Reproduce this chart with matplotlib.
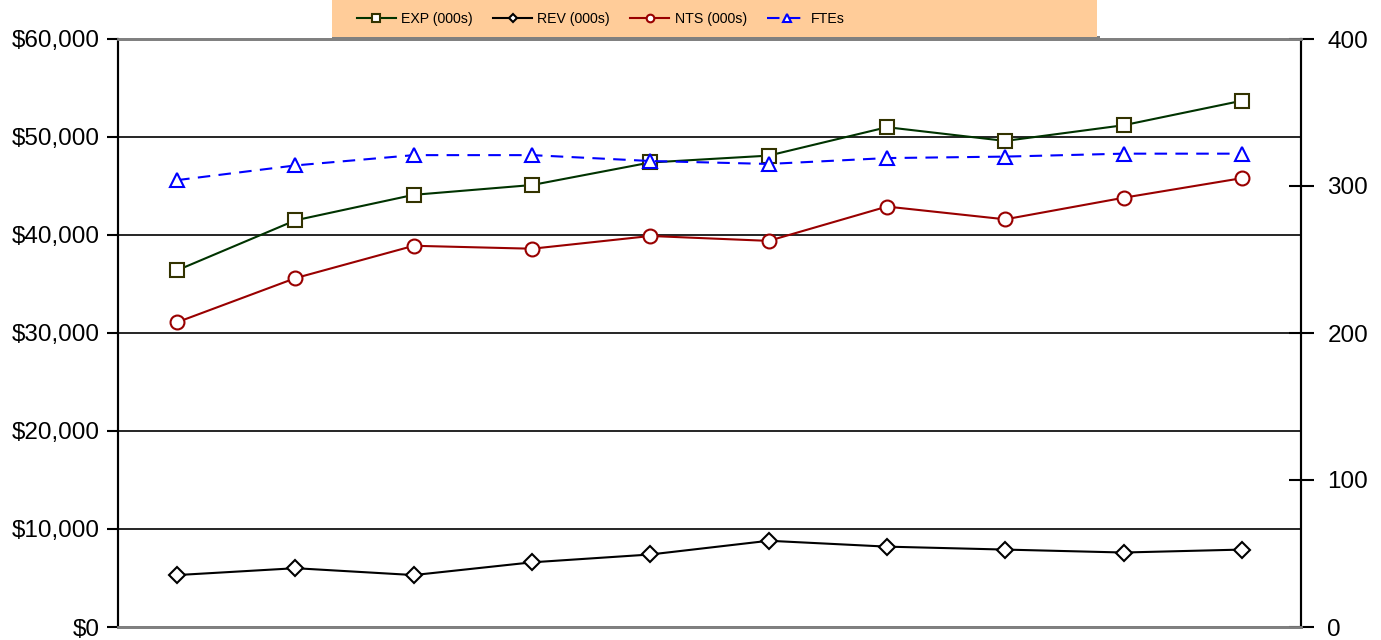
import matplotlib
matplotlib.use("Agg")
import matplotlib.pyplot as plt
from matplotlib.ticker import FuncFormatter, MultipleLocator
from matplotlib.patches import Rectangle
import numpy as np

plt.rcParams['font.family'] = ['Liberation Sans', 'DejaVu Sans']

periods = list(range(1, 11))
exp_vals = [36400, 41500, 44100, 45100, 47400, 48100, 51000, 49600, 51200, 53700]
rev_vals = [5300, 6000, 5300, 6600, 7400, 8800, 8200, 7900, 7600, 7900]
nts_vals = [31100, 35600, 38900, 38600, 39900, 39400, 42900, 41600, 43800, 45800]
fte_vals = [304, 314, 321, 321, 317, 315, 319, 320, 322, 322]

W, H = 1381, 640
fig = plt.figure(figsize=(W / 100, H / 100), dpi=100)
ax = fig.add_axes([118 / W, 13 / H, (1301 - 118) / W, (627 - 39) / H])
ax2 = ax.twinx()

x = np.arange(len(periods)) + 0.5

l1, = ax.plot(x, exp_vals, color='#003300', lw=1.5, marker='s', ms=10,
              mfc='white', mec='#333300', mew=1.5, label='EXP (000s)')
l2, = ax.plot(x, rev_vals, color='black', lw=1.5, marker='D', ms=8,
              mfc='white', mec='black', mew=1.5, label='REV (000s)')
l3, = ax.plot(x, nts_vals, color='#990000', lw=1.5, marker='o', ms=10,
              mfc='white', mec='#990000', mew=1.5, label='NTS (000s)')
l4, = ax2.plot(x, fte_vals, color='#0000FF', lw=1.5, ls=(0, (6, 4)), marker='^', ms=10,
               mfc='white', mec='#0000FF', mew=1.5, label='FTEs')

ax.set_xlim(0, 10)
ax.set_ylim(0, 60000)
ax2.set_ylim(0, 400)
ax.set_xticks([])
ax.yaxis.set_major_locator(MultipleLocator(10000))
ax.yaxis.set_major_formatter(FuncFormatter(lambda v, p: f"${v:,.0f}"))
ax2.yaxis.set_major_locator(MultipleLocator(100))

ax.grid(axis='y', color='black', lw=1.2)
ax.set_axisbelow(True)

for a in (ax, ax2):
    a.spines['top'].set_color('#808080')
    a.spines['bottom'].set_color('#808080')
    a.spines['top'].set_linewidth(2)
    a.spines['bottom'].set_linewidth(2)
    a.spines['left'].set_linewidth(1.5)
    a.spines['right'].set_linewidth(1.5)

ax.tick_params(axis='y', direction='out', length=8, width=1.5, labelsize=17.5, pad=5)
ax2.tick_params(axis='y', direction='inout', length=18, width=1.5, labelsize=17.5, pad=10)

# legend background box and shadow strip
fig.patches.append(Rectangle((332 / W, 1 - 40 / H), (1100 - 332) / W, 4 / H,
                             transform=fig.transFigure, facecolor='#808080',
                             edgecolor='none', zorder=0))
fig.patches.append(Rectangle((332 / W, 1 - 37 / H), (1097 - 332) / W, 37 / H,
                             transform=fig.transFigure, facecolor='#FFCC99',
                             edgecolor='none', zorder=1))

leg = fig.legend(handles=[l1, l2, l3, l4], loc='center left', ncol=4,
                 bbox_to_anchor=(357 / W, 1 - 19 / H), frameon=False,
                 fontsize=10.2, handlelength=2.75, columnspacing=1.45,
                 borderpad=0, borderaxespad=0, handletextpad=0.36,
                 markerscale=0.55)
leg.set_zorder(5)

fig.savefig('out.png', dpi=100)
